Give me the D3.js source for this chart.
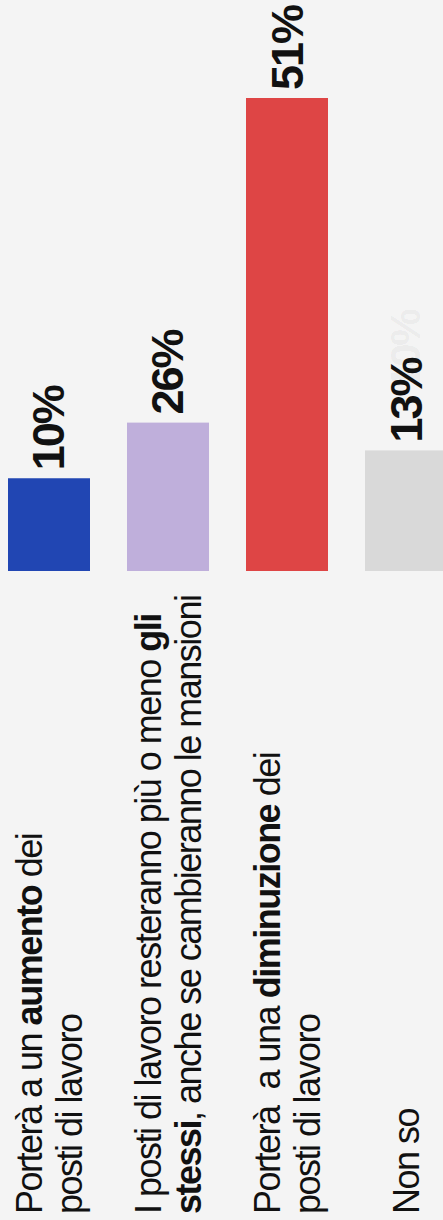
<!DOCTYPE html>
<html>
<head>
<meta charset="utf-8">
<script src="https://cdn.jsdelivr.net/npm/d3@7"></script>
<style>
  html, body { margin: 0; padding: 0; background: #f4f4f4; }
  svg { display: block; }
  text { font-family: "Liberation Sans", Arial, Helvetica, sans-serif; fill: #111; }
</style>
</head>
<body>
<svg id="chart" width="443" height="1220"></svg>
<script>
// ---- data ----
const categories = ["aumento", "stessi", "diminuzione", "nonso"];
const barValues = [10, 16, 51, 13];            // drawn bar heights as seen in the picture
const labelTexts = ["10%", "26%", "51%", "13%"];
const ghostLabel = "10%";                       // faint fading label near the last bar
const colors = ["#2146b3", "#bfafdb", "#de4545", "#d9d9d9"];
// category label lines, each a list of [text, bold]
const labelLines = [
  [[["Porterà a un ", false], ["aumento", true], [" dei", false]],
   [["posti di lavoro", false]]],
  [[["I posti di lavoro resteranno più o meno ", false], ["gli", true]],
   [["stessi", true], [", anche se cambieranno le mansioni", false]]],
  [[["Porterà  a una ", false], ["diminuzione", true], [" dei", false]],
   [["posti di lavoro", false]]],
  [[["Non so", false]]]
];

// ---- layout ----
const W = 443, H = 1220;
const baseY = 571;
const svg = d3.select("#chart");
svg.append("rect").attr("width", W).attr("height", H).attr("fill", "#f4f4f4");

const x = d3.scaleBand().domain(categories).range([8, 447]).paddingInner(0.311).paddingOuter(0);
const y = d3.scaleLinear().domain([0, 51]).range([baseY, 98]);

const data = categories.map((c, i) => ({ c, v: barValues[i], label: labelTexts[i], color: colors[i], lines: labelLines[i] }));

svg.selectAll("rect.bar").data(data).join("rect")
  .attr("class", "bar")
  .attr("x", d => x(d.c))
  .attr("width", x.bandwidth())
  .attr("y", d => y(d.v))
  .attr("height", d => baseY - y(d.v))
  .attr("fill", d => d.color);

// value labels (rotated)
svg.selectAll("text.val").data(data).join("text")
  .attr("class", "val")
  .attr("transform", d => `translate(${x(d.c) + x.bandwidth() / 2 + 15.5},${y(d.v) - 8}) rotate(-90)`)
  .attr("font-size", 45)
  .attr("font-weight", "bold")
  .attr("letter-spacing", "-2px")
  .text(d => d.label);

// faint ghost label
const last = data[3];
svg.append("text")
  .attr("transform", `translate(${x(last.c) + x.bandwidth() / 2 + 14},${y(last.v) - 62}) rotate(-90)`)
  .attr("font-size", 42)
  .attr("font-weight", "bold")
  .attr("letter-spacing", "-2px")
  .style("fill-opacity", 0.05)
  .text(ghostLabel);

// category labels (rotated, reading bottom to top)
const lineH = 40;
data.forEach(d => {
  const cx = x(d.c) + x.bandwidth() / 2;
  const n = d.lines.length;
  d.lines.forEach((line, i) => {
    const bx = cx + (i - (n - 1) / 2) * lineH + 13;
    const t = svg.append("text")
      .attr("transform", `translate(${bx},1214) rotate(-90)`)
      .attr("font-size", 36)
      .attr("letter-spacing", "-1.5px")
      .style("white-space", "pre");
    line.forEach(([s, b]) => {
      t.append("tspan").attr("font-weight", b ? "bold" : "normal").text(s);
    });
  });
});
</script>
</body>
</html>
